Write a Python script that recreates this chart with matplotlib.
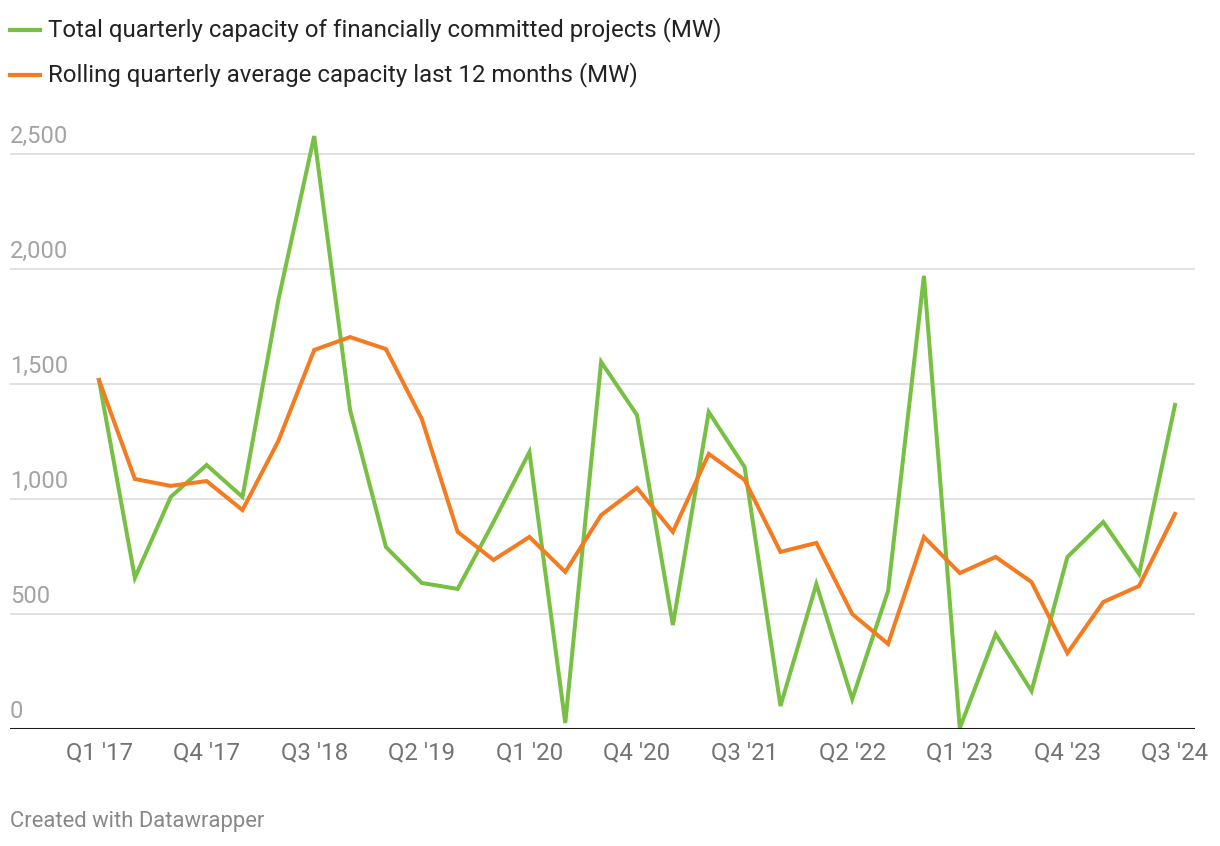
import matplotlib.pyplot as plt
import numpy as np

plt.rcParams['font.family'] = ['Roboto', 'DejaVu Sans']

# quarters Q1 '17 .. Q3 '24
quarters = []
for yr in range(17, 25):
    for q in range(1, 5):
        quarters.append("Q%d '%d" % (q, yr))
quarters = quarters[:31]

total = [1517, 657, 1009, 1148, 1009, 1865, 2578, 1387, 791, 635, 609, 900,
         1204, 26, 1596, 1365, 452, 1378, 1139, 100, 630, 130, 600, 1970,
         4, 413, 165, 748, 900, 674, 1409]
rolling = [1517, 1087, 1057, 1078, 952, 1252, 1648, 1704, 1652, 1348, 857, 735,
           835, 683, 930, 1048, 857, 1196, 1083, 770, 809, 500, 370, 835,
           678, 748, 639, 330, 552, 622, 935]

yticks = [0, 500, 1000, 1500, 2000, 2500]
green = '#78c043'
orange = '#f47b20'

fig = plt.figure(figsize=(12.2, 8.46), dpi=100)
ax = fig.add_axes([10/1220, 1 - 729/846, 1185/1220, 599/846])

x = np.arange(len(quarters))
ax.plot(x, total, color=green, lw=2.9, solid_joinstyle='miter', zorder=3, clip_on=False)
ax.plot(x, rolling, color=orange, lw=2.9, solid_joinstyle='miter', zorder=4, clip_on=False)

step = (1175 - 99) / 30
ax.set_xlim(-89 / step, 30 + 20 / step)
ax.set_ylim(0, 599 / 0.23)

for v in yticks[1:]:
    ax.axhline(v, color='#e1e1e1', lw=1.4, zorder=1)
ax.axhline(0, color='#1a1a1a', lw=2.2, zorder=5)

for v in yticks:
    ax.text(-89 / step, v + 26, format(v, ','), color='#a3a3a3', fontsize=17,
            ha='left', va='bottom', transform=ax.transData)

ax.set_xticks(x[::3])
ax.set_xticklabels(quarters[::3], fontsize=17.3, color='#737373')
ax.tick_params(axis='x', length=0, pad=9)
ax.set_yticks([])
for s in ax.spines.values():
    s.set_visible(False)

# legend
for yy, col, lab in [(30, green, 'Total quarterly capacity of financially committed projects (MW)'),
                     (75, orange, 'Rolling quarterly average capacity last 12 months (MW)')]:
    fig.add_artist(plt.Line2D([10/1220, 40/1220], [1 - yy/846, 1 - yy/846], color=col, lw=3))
    fig.text(48/1220, 1 - yy/846, lab, fontsize=17.3, color='#222222', va='center', ha='left')

fig.text(10/1220, 1 - 821/846, 'Created with Datawrapper', fontsize=15.8, color='#888888',
         va='center', ha='left')

fig.savefig('out.png', dpi=100)
